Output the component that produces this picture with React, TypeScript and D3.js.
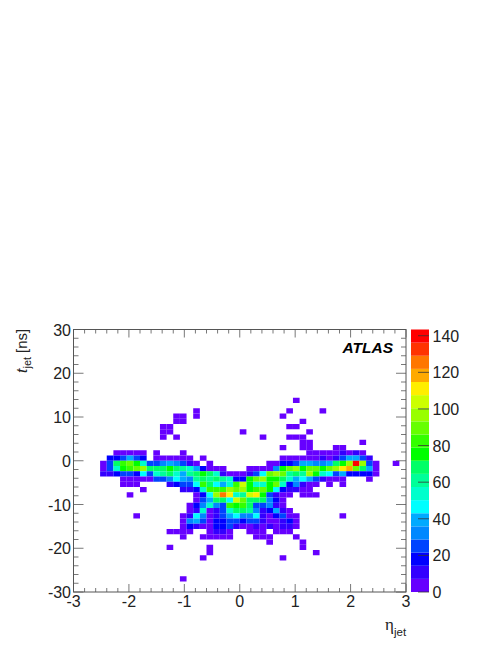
import React from "react";
import * as d3 from "d3";

const W = 498, H = 645;
const ETA_BINS = 50, T_BINS = 50;
const etaTicks = [-3, -2, -1, 0, 1, 2, 3];
const tTicks = [-30, -20, -10, 0, 10, 20, 30];
const zTicks = [0, 20, 40, 60, 80, 100, 120, 140];
const Z_MAX = 143.4;
const palette = ["#6600ff","#3300ff","#0000ff","#0044ff","#0088ff","#00aaff","#00ffff","#00ffcc","#00ff99","#00ff66","#00ff00","#33ff00","#66ff00","#99ff00","#ccff00","#ffee00","#ffaa00","#ff7700","#ff3300","#ff0000"];

// [t-bin from top, first eta-bin, counts]
type Seg = [number, number, number[]];
const upperCells: Seg[] = [
  [13,33,[3]],
  [15,18,[3]],[15,32,[3]],[15,37,[3]],
  [16,15,[3,3]],[16,18,[3]],[16,31,[3]],
  [17,15,[3,3]],[17,34,[3]],
  [18,13,[3,3]],[18,32,[3,3]],
  [19,13,[3,3]],[19,25,[3]],[19,35,[3]],
  [20,13,[3]],[20,15,[3]],[20,28,[3]],[20,32,[3,3,3]],
  [21,34,[3,3]],[21,43,[3]],
  [22,31,[3]],[22,34,[3,3]],[22,39,[3,3]],
];
const bandCells: Seg[] = [
  [23,6,[3,3,3,3,3]],[23,12,[3]],[23,16,[3]],[23,35,[3,3,3,3,3,11,3,11,3]],
  [24,5,[18,18,25,40,25,18]],[24,12,[3,3,3,3,3,3]],[24,19,[3]],[24,31,[3,3,3,3,3,3,11,3,11,25,40,40,25,11]],
  [25,4,[3,25,68,82,90,75,54,25,25,32,40,32,25,11,3]],[25,20,[3]],[25,29,[3,3,18,18,25,40,40,32,32,40,68,75,97,140,97,25,3]],[25,48,[3]],
  [26,4,[3,25,54,75,82,90,97,68,68,68,75,68,61,54,40,18,3,3,3]],[26,26,[3,3,3,3,32,75,90,97,75,90,90,75,90,97,111,118,90,68,40,3]],
  [27,4,[11,11,18,25,25,18,47,25,54,61,68,54,40,61,68,75,68,54,11,3,3]],[27,25,[3,11,25,47,90,97,90,61,68,61,97,75,54,47,25,40,18,18,18,18,3]],
  [28,7,[3,3,3,3,3,25,25,32,47,40,32,61,68,61,68,61,54,18,18,75,90,97,75,75,68,54,40,47,40,25,11,3,3,3]],[28,44,[3]],
  [29,7,[3,3,3]],[29,14,[11,18,25,25,47,82,68,47,40,54,82,104,75,54,54,75,90,54,18,32,11,3,3]],[29,38,[3]],[29,40,[3]],
];
const lowerCells: Seg[] = [
  [30,10,[3]],[30,16,[11,11,18,54,82,82,82,97,90,97,75,82,90,75,47,18,11,11,3,3]],
  [31,8,[3]],[31,18,[3,18,47,97,125,111,54,61,104,111,75,25,11,3,3]],[31,34,[3,3,3]],
  [32,18,[3,25,40,68,68,47,104,90,68,68,68,32,18,3]],
  [33,17,[3,18,32,54,32,25,82,75,82,68,25,25,32,11,3]],
  [34,17,[3,11,54,3,11,25,54,68,68,61,32,11,18,40,11,3]],
  [35,9,[3]],[35,16,[3,11,47,32,3,11,25,40,47,32,32,47,11,3,18,25,3,3]],[35,40,[3]],
  [36,16,[3,32,40,25,3,18,18,25,25,18,25,25,11,3,3,11,18,3]],
  [37,16,[3,18,11,3,3,18,18,25,11,3,3,11,3,11,3,11,11,3]],
  [38,14,[3,3,3,3]],[38,20,[3,11,11,3]],[38,26,[3,3,3]],[38,30,[3,3,3]],
  [39,16,[3]],[39,19,[3,3,3,3,3]],[39,27,[3,3,3]],[39,33,[3]],
  [40,29,[3]],[40,34,[3]],
  [41,14,[3]],[41,20,[3]],[41,34,[3]],
  [42,20,[3]],[42,36,[3]],
  [43,19,[3]],[43,31,[3]],
  [47,16,[3]],
];

const LEFT = 73.5, RIGHT = 406, TOP = 329.5, BOTTOM = 592;
const BAR_L = 411, BAR_R = 429;
const FONT = "'Liberation Sans', Arial, sans-serif";
const AXIS = "#555";

const x = d3.scaleLinear().domain([-3, 3]).range([LEFT, RIGHT]);
const y = d3.scaleLinear().domain([-30, 30]).range([BOTTOM, TOP]);
const z = d3.scaleLinear().domain([0, Z_MAX]).range([BOTTOM, TOP]);
const color = d3.scaleQuantize<string>().domain([0, Z_MAX]).range(palette);

const etaEdge = (i: number) => x(-3 + (6 * i) / ETA_BINS);
const tEdge = (j: number) => y(30 - (60 * j) / T_BINS);

const cells = [...upperCells, ...bandCells, ...lowerCells].flatMap(([j, i0, vals]) =>
  vals.map((v, k) => ({ i: i0 + k, j, v }))
);
const xMinor = d3.range(-3, 3.001, 0.2);
const yMinor = d3.range(-30, 30.001, 2);
const zBands = palette.map((c, k) => ({ c, lo: (k * Z_MAX) / palette.length, hi: ((k + 1) * Z_MAX) / palette.length }));

export default function App() {
  return (
    <svg width={W} height={H} style={{ position: "absolute", left: 0, top: 0, background: "#fff" }} fontFamily={FONT}>
      {cells.map(({ i, j, v }) => (
        <rect key={`${i}-${j}`} x={etaEdge(i)} y={tEdge(j)} width={etaEdge(i + 1) - etaEdge(i)} height={tEdge(j + 1) - tEdge(j)} fill={color(v)} />
      ))}
      <rect x={LEFT} y={TOP} width={RIGHT - LEFT} height={BOTTOM - TOP} fill="none" stroke={AXIS} strokeWidth={1} />
      {xMinor.map((t, k) => {
        const major = k % 5 === 0;
        const len = major ? 8 : 4;
        return (
          <g key={k} stroke={AXIS} strokeWidth={0.8}>
            <line x1={x(t)} x2={x(t)} y1={BOTTOM} y2={BOTTOM - len} />
            <line x1={x(t)} x2={x(t)} y1={TOP} y2={TOP + len} />
          </g>
        );
      })}
      {yMinor.map((t, k) => {
        const major = k % 5 === 0;
        const len = major ? 10 : 5;
        return (
          <g key={k} stroke={AXIS} strokeWidth={0.8}>
            <line x1={LEFT} x2={LEFT + len} y1={y(t)} y2={y(t)} />
            <line x1={RIGHT} x2={RIGHT - len} y1={y(t)} y2={y(t)} />
          </g>
        );
      })}
      {etaTicks.map((t) => (
        <text key={t} x={x(t)} y={BOTTOM + 15} fontSize={16} textAnchor="middle" fill="#222">{t}</text>
      ))}
      {tTicks.map((t) => (
        <text key={t} x={LEFT - 2.5} y={y(t) + 6} fontSize={16} textAnchor="end" fill="#222">{t}</text>
      ))}
      {zBands.map((b) => (
        <rect key={b.lo} x={BAR_L} width={BAR_R - BAR_L} y={z(b.hi)} height={z(b.lo) - z(b.hi)} fill={b.c} />
      ))}
      {zTicks.map((t) => (
        <g key={t}>
          <line x1={BAR_R - 11} x2={BAR_R} y1={z(t)} y2={z(t)} stroke="#333" strokeWidth={0.8} />
          <text x={BAR_R + 3.5} y={z(t) + 6} fontSize={16} fill="#222">{t}</text>
        </g>
      ))}
      <text x={342.5} y={353} fontSize={15.5} fontWeight="bold" fontStyle="italic" fill="#000">ATLAS</text>
      <text x={385} y={630} fontSize={17} fontFamily="'Liberation Serif', serif" fill="#222">η</text>
      <text x={394} y={636} fontSize={11.5} fill="#222">jet</text>
      <g transform="translate(26.5,373) rotate(-90)" fill="#222">
        <text x={0} y={0} fontSize={15.5} fontStyle="italic">t</text>
        <text x={4.5} y={4} fontSize={11}>jet</text>
        <text x={20} y={0} fontSize={15}>[ns]</text>
      </g>
    </svg>
  );
}
